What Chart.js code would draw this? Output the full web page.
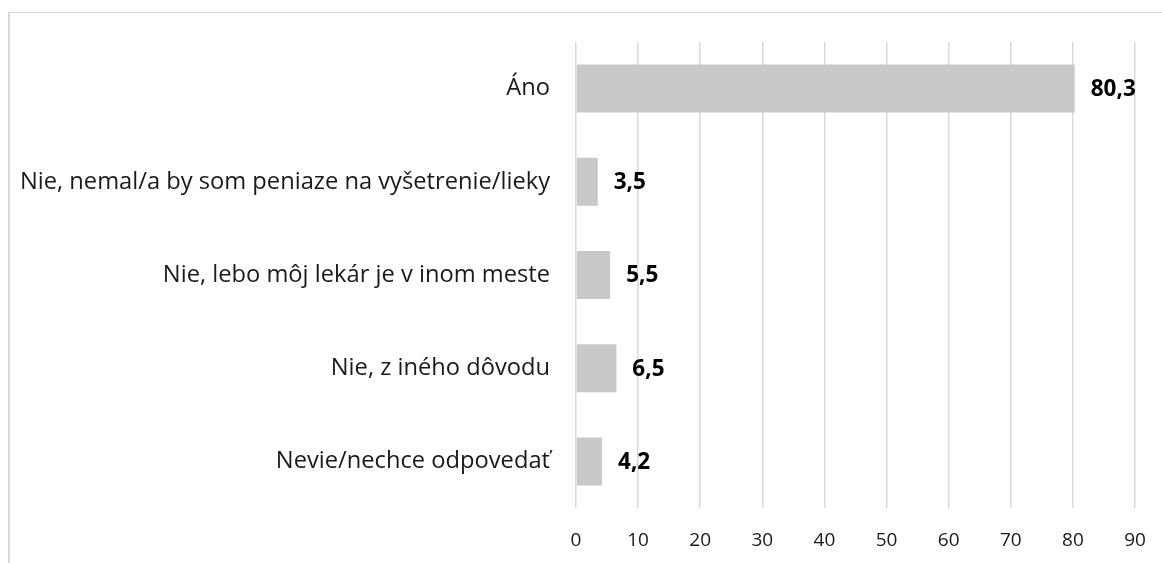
<!DOCTYPE html>
<html>
<head>
<meta charset="utf-8">
<script src="https://cdn.jsdelivr.net/npm/chart.js@4"></script>
<style>
  html, body { margin: 0; padding: 0; background: #fff; overflow: hidden; }
  #frame { position: absolute; left: 8px; top: 12px; width: 1200px; height: 600px;
           border-top: 1.5px solid #d9d9d9; border-left: 2px solid #d9d9d9; box-sizing: border-box; }
  #wrap { position: absolute; left: 0; top: 0; width: 1162px; height: 563px; }
</style>
</head>
<body>
<div id="frame"></div>
<div id="wrap"><canvas id="c" width="1162" height="563"></canvas></div>
<script>
const categories = [
  "Áno",
  "Nie, nemal/a by som peniaze na vyšetrenie/lieky",
  "Nie, lebo môj lekár je v inom meste",
  "Nie, z iného dôvodu",
  "Nevie/nechce odpovedať"
];
const values = [80.3, 3.5, 5.5, 6.5, 4.2];
const xTicks = [0, 10, 20, 30, 40, 50, 60, 70, 80, 90];

const FONT = "'Open Sans', 'Liberation Sans', sans-serif";

const valueLabels = {
  id: 'valueLabels',
  afterDatasetsDraw(chart) {
    const ctx = chart.ctx;
    const meta = chart.getDatasetMeta(0);
    ctx.save();
    ctx.font = "bold 22.5px " + FONT;
    ctx.fillStyle = '#000';
    ctx.textAlign = 'left';
    ctx.textBaseline = 'middle';
    meta.data.forEach((bar, i) => {
      const txt = values[i].toFixed(1).replace('.', ',');
      ctx.fillText(txt, bar.x + 16, bar.y + 1);
    });
    ctx.restore();
  }
};

new Chart(document.getElementById('c'), {
  type: 'bar',
  data: {
    labels: categories,
    datasets: [{
      data: values,
      backgroundColor: '#c9c9c9',
      borderWidth: 0,
      categoryPercentage: 1,
      barPercentage: 0.515
    }]
  },
  options: {
    indexAxis: 'y',
    responsive: false,
    animation: false,
    devicePixelRatio: 1,
    layout: { padding: { top: 42, right: 27, bottom: 0, left: 0 } },
    plugins: { legend: { display: false }, tooltip: { enabled: false } },
    scales: {
      x: {
        min: 0, max: 90,
        afterBuildTicks(scale) { scale.ticks = xTicks.map(v => ({ value: v })); },
        afterFit(scale) { scale.height = 55; scale.paddingRight = 0; scale.paddingLeft = 0; },
        grid: { color: '#d9d9d9', lineWidth: 1.5, drawTicks: false },
        border: { display: false },
        ticks: { padding: 21, color: '#1a1a1a', font: { family: FONT, size: 19 }, maxRotation: 0 }
      },
      y: {
        afterFit(scale) { scale.width = 576; },
        grid: { display: false, drawTicks: false },
        border: { display: false },
        ticks: { padding: 26, color: '#1a1a1a', font: { family: FONT, size: 23.7 } }
      }
    }
  },
  plugins: [valueLabels]
});
</script>
</body>
</html>
